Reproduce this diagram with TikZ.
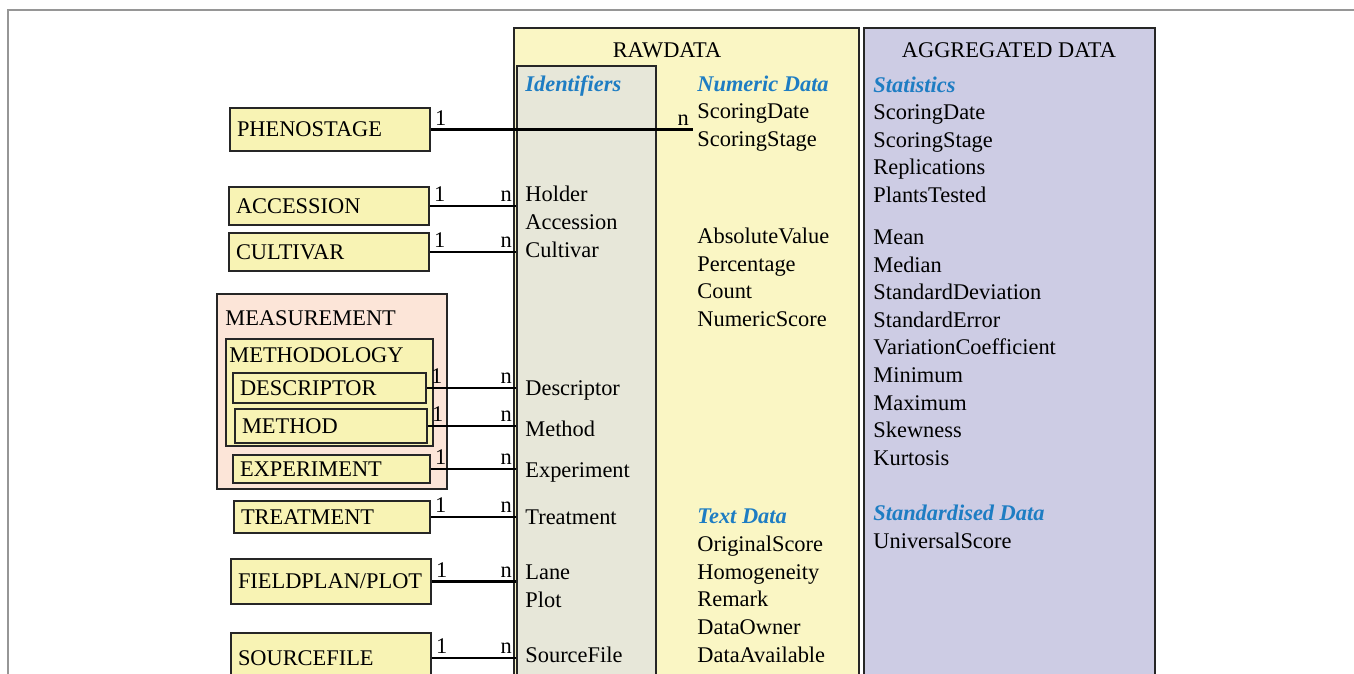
\documentclass[tikz,border=0pt]{standalone}
\usepackage{fontspec}
\setmainfont{Liberation Serif}
\usetikzlibrary{positioning}

\definecolor{rawyellow}{RGB}{250,246,196}
\definecolor{entyellow}{RGB}{248,243,180}
\definecolor{idgray}{RGB}{231,231,217}
\definecolor{agglilac}{RGB}{205,204,228}
\definecolor{measpeach}{RGB}{252,229,216}
\definecolor{headblue}{RGB}{30,125,195}
\definecolor{framegray}{RGB}{150,150,150}

\begin{document}
\begin{tikzpicture}[x=0.5pt, y=-0.5pt,
    every node/.style={font=\fontsize{11.2}{14}\selectfont},
    panel/.style={draw=black!85, line width=1pt, anchor=north west, inner sep=0pt, minimum height=336.5pt},
    entity/.style={draw=black!85, line width=1pt, fill=entyellow, anchor=north west,
                   inner xsep=3.5pt, inner ysep=0pt, text width=93pt, align=left},
    group/.style={draw=black!85, line width=1pt, anchor=north west, inner sep=0pt},
    item/.style={anchor=west, inner sep=2pt, text height=8pt, text depth=2.5pt, yshift=-1.2pt},
    head/.style={item, font=\fontsize{11.2}{14}\selectfont\bfseries\itshape, text=headblue},
    link/.style={line width=1.2pt},
    one/.style={above right, at start, inner sep=1.5pt},
    many/.style={above left, at end, inner sep=1.5pt}]
  \useasboundingbox (0,0) rectangle (1354,674);
  \draw[framegray, line width=0.8pt] (8,700) |- (1360,10);

  % raw and aggregated data
  \node[panel, fill=rawyellow, minimum width=172.5pt] (raw) at (513,27) {};
  \node[panel, fill=idgray, minimum width=69.5pt, minimum height=317.5pt] (ident) at (516,65) {};
  \node[panel, fill=agglilac, minimum width=145.5pt] (agg) at (863,27) {};
  \node (rawtitle) at (667,50) {RAWDATA};
  \node (aggtitle) at (1009,50) {AGGREGATED DATA};

  \node[head] (idhead) at (521,84) {Identifiers};
  \node[head] (numhead) at (693,84) {Numeric Data};
  \node[head] (txthead) at (693,516) {Text Data};
  \node[head] (stathead) at (869,85) {Statistics};
  \node[head] (stdhead) at (869,513) {Standardised Data};

  \foreach \txt/\yy [count=\i] in {Holder/194,Accession/222,Cultivar/250,Descriptor/388,
      Method/429,Experiment/470,Treatment/517,Lane/572,Plot/600,SourceFile/655}
    \node[item] (id-\i) at (521,\yy) {\txt};
  \foreach \txt/\yy [count=\i] in {ScoringDate/111,ScoringStage/139,AbsoluteValue/236,
      Percentage/264,Count/291,NumericScore/319,OriginalScore/544,Homogeneity/572,
      Remark/599,DataOwner/627,DataAvailable/655}
    \node[item] (num-\i) at (693,\yy) {\txt};
  \foreach \txt/\yy [count=\i] in {ScoringDate/112,ScoringStage/140,Replications/167,
      PlantsTested/195,Mean/237,Median/265,StandardDeviation/292,StandardError/320,
      VariationCoefficient/347,Minimum/375,Maximum/403,Skewness/430,Kurtosis/458,
      UniversalScore/541}
    \node[item] (st-\i) at (869,\yy) {\txt};

  % lookup tables
  \node[entity, minimum height=21.5pt] (phen) at (229,107) {PHENOSTAGE};
  \node[entity, minimum height=19pt] (acc) at (228,186) {ACCESSION};
  \node[entity, minimum height=19pt] (cult) at (228,232) {CULTIVAR};
  \node[group, fill=measpeach, minimum width=115pt, minimum height=97.5pt] (meas) at (216,293) {};
  \node[item] (meastitle) at (221,318) {MEASUREMENT};
  \node[group, fill=entyellow, minimum width=103.5pt, minimum height=53.5pt] (mthdlgy) at (225,338) {};
  \node[item] (mthdlgytitle) at (225,355) {METHODOLOGY};
  \node[entity, text width=89.5pt, minimum height=15pt] (desc) at (232,372) {DESCRIPTOR};
  \node[entity, text width=89pt, minimum height=17pt] (meth) at (234,408) {METHOD};
  \node[entity, text width=91.5pt, minimum height=14pt] (expe) at (232,454) {EXPERIMENT};
  \node[entity, text width=91pt, minimum height=16pt] (treat) at (233,500) {TREATMENT};
  \node[entity, minimum height=22.5pt] (field) at (230,558) {FIELDPLAN/PLOT};
  \node[entity, minimum height=25pt] (src) at (230,632) {SOURCEFILE};

  \draw[link] (phen.east) -- node[one] {1} node[many] {n} (phen.east -| num-2.west);
  \foreach \e in {acc,cult,desc,meth,expe,treat,field,src}
    \draw[link] (\e.east) -- node[one] {1} node[many] {n} (\e.east -| ident.west);
\end{tikzpicture}
\end{document}
